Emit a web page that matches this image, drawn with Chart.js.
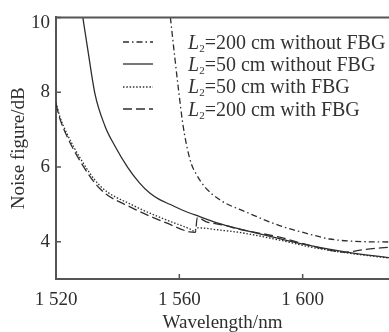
<!DOCTYPE html>
<html>
<head>
<meta charset="utf-8">
<script src="https://cdn.jsdelivr.net/npm/chart.js@4/dist/chart.umd.min.js"></script>
<style>
  html, body { margin: 0; padding: 0; background: #fff; }
  #wrap { position: relative; width: 389px; height: 332px; }
  #legend {
    position: absolute; left: 123px; top: 31px;
    font-family: "Liberation Serif", serif; font-size: 20px; color: #333;
  }
  .row { display: flex; align-items: center; height: 22.3px; white-space: nowrap; }
  .row svg { width: 30px; height: 4px; margin-right: 35px; flex: none; }
  .row sub { font-size: 11px; vertical-align: -3px; line-height: 0; }
</style>
</head>
<body>
<div id="wrap">
  <canvas id="chart" width="389" height="332"></canvas>
  <div id="legend"></div>
</div>
<script>
// L2 = 200 cm without FBG (dash-dot)
const wl200NoFbg = [1557.1, 1558.5, 1559.8, 1561.1, 1562.4, 1563.9, 1565.6, 1568.2, 1573.1, 1581.7, 1592.5, 1602.2, 1608.7, 1619.4, 1628.0];
const nf200NoFbg = [10.0, 8.95, 8.02, 7.17, 6.56, 6.08, 5.79, 5.47, 5.12, 4.79, 4.43, 4.20, 4.07, 4.00, 3.99];

// L2 = 50 cm without FBG (solid)
const wl50NoFbg = [1528.7, 1530.4, 1532.6, 1535.9, 1539.1, 1543.3, 1547.0, 1550.4, 1553.5, 1556.9, 1561.1, 1566.6, 1573.1, 1578.5, 1592.5, 1602.2, 1614.1, 1628.0];
const nf50NoFbg = [10.0, 9.09, 7.97, 7.09, 6.56, 5.98, 5.58, 5.30, 5.13, 5.00, 4.84, 4.67, 4.48, 4.36, 4.08, 3.90, 3.72, 3.57];

// L2 = 50 cm with FBG (dotted)
const wl50Fbg = [1520.0, 1521.3, 1523.5, 1527.8, 1534.2, 1545.0, 1555.8, 1563.4, 1564.8, 1565.8, 1573.0, 1580.0, 1592.5, 1602.2, 1614.1, 1628.0];
const nf50Fbg = [7.72, 7.33, 6.90, 6.24, 5.50, 4.97, 4.58, 4.34, 4.28, 4.37, 4.31, 4.24, 4.04, 3.86, 3.70, 3.56];

// L2 = 200 cm with FBG (dashed)
const wl200Fbg = [1520.0, 1521.3, 1523.5, 1527.8, 1534.2, 1545.0, 1555.8, 1563.4, 1565.2, 1565.8, 1568.8, 1575.2, 1578.5, 1592.5, 1602.2, 1614.1, 1620.0, 1628.0];
const nf200Fbg = [7.68, 7.28, 6.83, 6.16, 5.42, 4.89, 4.50, 4.26, 4.25, 4.64, 4.53, 4.43, 4.35, 4.12, 3.90, 3.72, 3.79, 3.85];

const legendNames = ["=200 cm without FBG", "=50 cm without FBG", "=50 cm with FBG", "=200 cm with FBG"];

const xTicks = [1520, 1560, 1600];
const xTickLabels = ["1 520", "1 560", "1 600"];
const yTicks = [4, 6, 8, 10];
const yTickLabels = ["4", "6", "8", "10"];

const INK = "#2e2e2e";
const AXIS = "#555";
const FONT = { family: "'Liberation Serif', serif", size: 19 };

const dashes = [[6, 3, 1.5, 3], [], [1.5, 1.8], [9, 4]];
const series = [
  [wl200NoFbg, nf200NoFbg],
  [wl50NoFbg, nf50NoFbg],
  [wl50Fbg, nf50Fbg],
  [wl200Fbg, nf200Fbg]
];

const datasets = series.map(([wl, nf], i) => ({
  label: "L2" + legendNames[i],
  data: wl.map((x, k) => ({ x, y: nf[k] })),
  borderColor: INK,
  borderWidth: 1.3,
  borderDash: dashes[i],
  pointRadius: 0,
  fill: false,
  cubicInterpolationMode: "monotone"
}));

// frame on top and inward tick marks
const innerTicks = {
  id: "innerTicks",
  afterDraw(chart) {
    const { ctx, chartArea: a, scales: { x, y } } = chart;
    ctx.save();
    ctx.strokeStyle = AXIS;
    ctx.lineWidth = 2;
    ctx.beginPath();
    ctx.moveTo(a.left - 1, a.top);
    ctx.lineTo(a.right, a.top);
    ctx.stroke();
    ctx.lineWidth = 1.5;
    ctx.beginPath();
    x.ticks.forEach((t) => {
      const px = x.getPixelForValue(t.value);
      ctx.moveTo(px, a.bottom);
      ctx.lineTo(px, a.bottom - 5);
    });
    y.ticks.forEach((t) => {
      const py = y.getPixelForValue(t.value);
      ctx.moveTo(a.left, py);
      ctx.lineTo(a.left + 5, py);
    });
    ctx.stroke();
    ctx.restore();
  }
};

const topValue = yTicks[yTicks.length - 1];

new Chart(document.getElementById("chart"), {
  type: "line",
  data: { datasets },
  options: {
    responsive: false,
    animation: false,
    layout: { padding: { top: 15, right: 0, left: 0, bottom: 0 } },
    plugins: { legend: { display: false }, tooltip: { enabled: false } },
    scales: {
      x: {
        type: "linear",
        min: 1520,
        max: 1628,
        afterBuildTicks: (s) => { s.ticks = xTicks.map((v) => ({ value: v })); },
        afterFit: (s) => { s.height = 53; },
        grid: { display: false, drawTicks: false },
        border: { display: true, color: AXIS, width: 2 },
        ticks: {
          padding: 10, color: INK, font: FONT, maxRotation: 0, autoSkip: false,
          callback: (v, i) => xTickLabels[i]
        },
        title: {
          display: true, text: "Wavelength/nm", color: INK,
          font: { ...FONT, lineHeight: 1 }, padding: { top: 0, bottom: -1 }
        }
      },
      y: {
        type: "linear",
        min: 3,
        max: 10,
        afterBuildTicks: (s) => { s.ticks = yTicks.map((v) => ({ value: v })); },
        afterFit: (s) => { s.width = 56; },
        grid: { display: false, drawTicks: false },
        border: { display: true, color: AXIS, width: 2 },
        ticks: {
          padding: 6, color: INK,
          // the top label sits a little below the frame line
          font: (c) => (c.tick && c.tick.value === topValue ? { ...FONT, lineHeight: 0.6 } : FONT),
          callback: (v, i) => (v === topValue ? ["", yTickLabels[i]] : yTickLabels[i])
        },
        title: {
          display: true, text: "Noise figure/dB", color: INK,
          font: FONT, padding: { top: 8, bottom: 0 }
        }
      }
    }
  },
  plugins: [innerTicks]
});

// legend overlay
const legend = document.getElementById("legend");
legendNames.forEach((name, i) => {
  const row = document.createElement("div");
  row.className = "row";
  const dash = dashes[i].length ? `stroke-dasharray="${dashes[i].join(" ")}"` : "";
  row.innerHTML = `<svg viewBox="0 0 30 4"><line x1="0" y1="2" x2="30" y2="2" stroke="${INK}" stroke-width="1.3" ${dash}/></svg>` +
    `<span><i>L</i><sub>2</sub>${name}</span>`;
  legend.appendChild(row);
});
</script>
</body>
</html>
